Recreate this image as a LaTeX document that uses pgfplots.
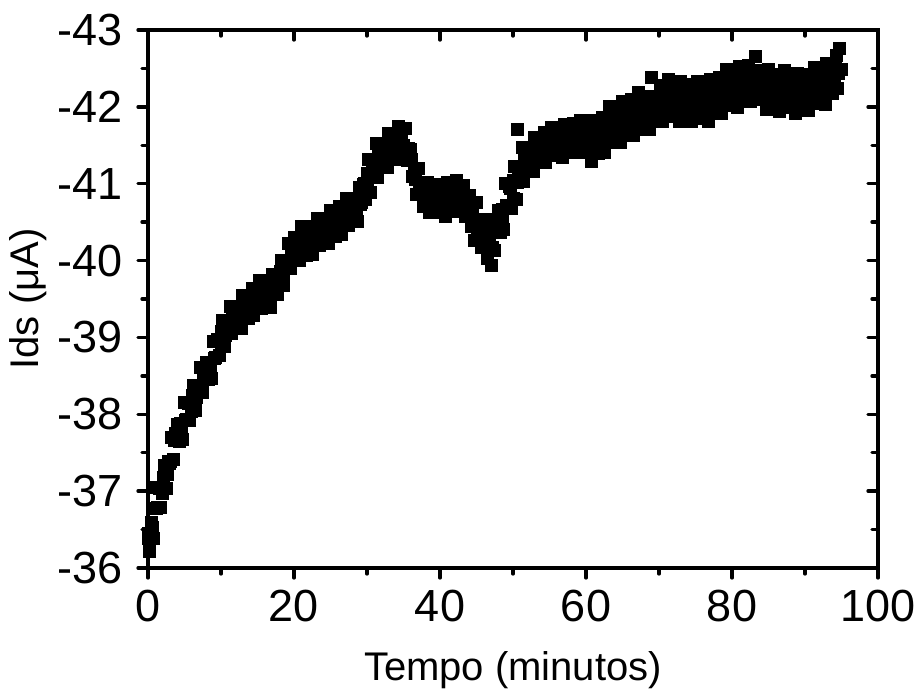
\documentclass[border=0pt]{standalone}
\usepackage{fontspec}
\setmainfont{Liberation Sans}
\usepackage{pgfplots}
\pgfplotsset{compat=1.18}
\begin{document}
\begin{tikzpicture}
\pgfplotsset{
  common/.style={
    scale only axis, width=219pt, height=161.4pt,
    xmin=0, xmax=100, ymin=-43, ymax=-36, y dir=reverse,
    xtick={0,20,40,60,80,100},
    ytick={-43,-42,-41,-40,-39,-38,-37,-36},
    minor x tick num=1, minor y tick num=1,
    axis line style={line width=1.05pt},
    major tick length=3pt, minor tick length=1.8pt,
    every tick/.style={black, line width=1pt, line cap=round},
  },
  sq/.style={only marks, mark=square*, mark size=1.75pt, black, mark options={draw=black, fill=black}},
}
\begin{axis}[common,
  tick align=outside, tick pos=left,
  xticklabels={0,20,40,60,80,100},
  yticklabels={-43,-42,-41,-40,-39,-38,-37,-36},
  ticklabel style={font=\fontsize{13.5}{15}\selectfont},
  yticklabel style={xshift=-1pt},
  label style={font=\fontsize{12}{14}\selectfont},
  xlabel style={yshift=-2pt},
  ylabel style={yshift=-3.6pt},
  xlabel={Tempo (minutos)}, ylabel={Ids (μA)},
]
\addplot[sq] coordinates {
(0,-36.45)(0.25,-36.22)(0.5,-36.59)(0.75,-36.38)
(1,-37.05)(1.25,-36.79)(1.5,-37.05)(1.75,-36.79)
(2,-36.97)(2.25,-37.34)(2.5,-37.04)(2.75,-37.39)
(3,-37.36)(3.25,-37.70)(3.5,-37.41)(3.75,-37.75)
(4,-37.87)(4.25,-37.65)(4.5,-37.88)(4.75,-37.67)
(5,-38.15)(5.25,-37.93)(5.5,-38.14)(5.75,-37.92)
(6,-38.04)(6.25,-38.38)(6.5,-38.05)(6.75,-38.37)
(7,-38.31)(7.25,-38.61)(7.5,-38.29)(7.75,-38.59)
(8,-38.67)(8.25,-38.45)(8.5,-38.68)(8.75,-38.47)
(9,-38.95)(9.25,-38.74)(9.5,-38.97)(9.75,-38.76)
(10,-38.89)(10.25,-39.22)(10.5,-38.88)(10.75,-39.18)
(11,-39.11)(11.25,-39.40)(11.5,-39.05)(11.75,-39.34)
(12,-39.40)(12.25,-39.15)(12.5,-39.34)(12.75,-39.11)
(13,-39.55)(13.25,-39.31)(13.5,-39.49)(13.75,-39.25)
(14,-39.34)(14.25,-39.64)(14.5,-39.28)(14.75,-39.56)
(15,-39.46)(15.25,-39.74)(15.5,-39.38)(15.75,-39.66)
(16,-39.71)(16.25,-39.45)(16.5,-39.63)(16.75,-39.39)
(17,-39.82)(17.25,-39.59)(17.5,-39.79)(17.75,-39.56)
(18,-39.67)(18.25,-40.00)(18.5,-39.67)(18.75,-39.98)
(19,-39.91)(19.25,-40.22)(19.5,-39.90)(19.75,-40.21)
(20,-40.30)(20.25,-40.04)(20.5,-40.24)(20.75,-40.00)
(21,-40.44)(21.25,-40.17)(21.5,-40.33)(21.75,-40.07)
(22,-40.14)(22.25,-40.44)(22.5,-40.08)(22.75,-40.36)
(23,-40.26)(23.25,-40.55)(23.5,-40.20)(23.75,-40.49)
(24,-40.55)(24.25,-40.28)(24.5,-40.47)(24.75,-40.22)
(25,-40.65)(25.25,-40.39)(25.5,-40.57)(25.75,-40.31)
(26,-40.39)(26.25,-40.70)(26.5,-40.34)(26.75,-40.62)
(27,-40.53)(27.25,-40.81)(27.5,-40.46)(27.75,-40.74)
(28,-40.80)(28.25,-40.55)(28.5,-40.74)(28.75,-40.51)
(29,-40.95)(29.25,-40.76)(29.5,-40.99)(29.75,-40.80)
(30,-40.91)(30.25,-41.31)(30.5,-40.88)(30.75,-41.24)
(31,-41.14)(31.25,-41.52)(31.5,-41.08)(31.75,-41.45)
(32,-41.50)(32.25,-41.25)(32.5,-41.44)(32.75,-41.21)
(33,-41.65)(33.25,-41.39)(33.5,-41.57)(33.75,-41.31)
(34,-41.39)(34.25,-41.75)(34.5,-41.35)(34.75,-41.62)
(35,-41.50)(35.25,-41.72)(35.5,-41.30)(35.75,-41.46)
(36,-41.45)(36.25,-41.10)(36.5,-41.19)(36.75,-40.86)
(37,-41.20)(37.25,-40.89)(37.5,-41.02)(37.75,-40.71)
(38,-40.74)(38.25,-41.01)(38.5,-40.62)(38.75,-40.87)
(39,-40.74)(39.25,-40.99)(39.5,-40.62)(39.75,-40.87)
(40,-40.90)(40.25,-40.64)(40.5,-40.83)(40.75,-40.58)
(41,-41.02)(41.25,-40.77)(41.5,-40.94)(41.75,-40.69)
(42,-40.77)(42.25,-41.04)(42.5,-40.64)(42.75,-40.89)
(43,-40.76)(43.25,-40.98)(43.5,-40.58)(43.75,-40.80)
(44,-40.85)(44.25,-40.44)(44.5,-40.64)(44.75,-40.26)
(45,-40.75)(45.25,-40.38)(45.5,-40.54)(45.75,-40.17)
(46,-40.21)(46.25,-40.53)(46.5,-40.03)(46.75,-40.32)
(47,-39.93)(47.25,-40.54)(47.5,-40.13)(47.75,-40.53)
(48,-40.65)(48.25,-40.36)(48.5,-40.66)(48.75,-40.40)
(49,-41.00)(49.25,-40.72)(49.5,-40.96)(49.75,-40.68)
(50,-40.81)(50.25,-41.22)(50.5,-40.80)(50.6,-41.70)(50.75,-41.18)
(51,-41.09)(51.25,-41.47)(51.5,-41.03)(51.75,-41.40)
(52,-41.45)(52.25,-41.20)(52.5,-41.39)(52.75,-41.16)
(53,-41.60)(53.25,-41.35)(53.5,-41.53)(53.75,-41.27)
(54,-41.36)(54.25,-41.66)(54.5,-41.28)(54.75,-41.56)
(55,-41.46)(55.25,-41.73)(55.5,-41.37)(55.75,-41.63)
(56,-41.68)(56.25,-41.41)(56.5,-41.59)(56.75,-41.34)
(57,-41.77)(57.25,-41.51)(57.5,-41.67)(57.75,-41.41)
(58,-41.49)(58.25,-41.78)(58.5,-41.40)(58.75,-41.67)
(59,-41.56)(59.25,-41.82)(59.5,-41.44)(59.75,-41.70)
(60,-41.78)(60.25,-41.41)(60.5,-41.64)(60.75,-41.29)
(61,-41.82)(61.25,-41.50)(61.5,-41.71)(61.75,-41.39)
(62,-41.48)(62.25,-41.86)(62.5,-41.41)(62.75,-41.76)
(63,-41.64)(63.25,-42.00)(63.5,-41.54)(63.75,-41.89)
(64,-41.97)(64.25,-41.61)(64.5,-41.86)(64.75,-41.53)
(65,-42.07)(65.25,-41.75)(65.5,-41.95)(65.75,-41.63)
(66,-41.72)(66.25,-42.09)(66.5,-41.63)(66.75,-41.97)
(67,-41.84)(67.25,-42.19)(67.5,-41.71)(67.75,-42.06)
(68,-42.13)(68.25,-41.78)(68.5,-42.03)(68.75,-41.70)
(69,-42.38)(69.25,-41.93)(69.5,-42.14)(69.75,-41.82)
(70,-41.91)(70.25,-42.28)(70.5,-41.81)(70.75,-42.15)
(71,-42.02)(71.25,-42.36)(71.5,-41.88)(71.75,-42.23)
(72,-42.29)(72.25,-41.92)(72.5,-42.15)(72.75,-41.81)
(73,-42.33)(73.25,-42.00)(73.5,-42.19)(73.75,-41.86)
(74,-41.93)(74.25,-42.29)(74.5,-41.81)(74.75,-42.14)
(75,-41.99)(75.25,-42.33)(75.5,-41.85)(75.75,-42.19)
(76,-42.25)(76.25,-41.89)(76.5,-42.14)(76.75,-41.81)
(77,-42.35)(77.25,-42.03)(77.5,-42.24)(77.75,-41.92)
(78,-42.01)(78.25,-42.38)(78.5,-41.92)(78.75,-42.26)
(79,-42.13)(79.25,-42.48)(79.5,-42.02)(79.75,-42.37)
(80,-42.44)(80.25,-42.08)(80.5,-42.32)(80.75,-41.99)
(81,-42.53)(81.25,-42.21)(81.5,-42.41)(81.75,-42.09)
(82,-42.18)(82.25,-42.54)(82.5,-42.07)(82.75,-42.40)
(83,-42.26)(83.25,-42.66)(83.5,-42.10)(83.75,-42.42)
(84,-42.47)(84.25,-42.09)(84.5,-42.32)(84.75,-41.97)
(85,-42.49)(85.25,-42.15)(85.5,-42.33)(85.75,-41.99)
(86,-42.06)(86.25,-42.42)(86.5,-41.94)(86.75,-42.27)
(87,-42.13)(87.25,-42.47)(87.5,-41.99)(87.75,-42.33)
(88,-42.39)(88.25,-42.02)(88.5,-42.25)(88.75,-41.91)
(89,-42.44)(89.25,-42.11)(89.5,-42.30)(89.75,-41.97)
(90,-42.05)(90.25,-42.42)(90.5,-41.95)(90.75,-42.29)
(91,-42.16)(91.25,-42.51)(91.5,-42.05)(91.75,-42.40)
(92,-42.47)(92.25,-42.11)(92.5,-42.36)(92.75,-42.03)
(93,-42.57)(93.25,-42.26)(93.5,-42.48)(93.75,-42.17)
(94,-42.28)(94.25,-42.67)(94.5,-42.24)(94.75,-42.76)
(95,-42.49)
};
\addplot[sq] coordinates {
(0.125,-36.38)(0.625,-36.53)(1.125,-36.78)(1.625,-37.04)
(2.125,-37.18)(2.625,-37.22)(3.125,-37.38)(3.625,-37.66)
(4.125,-37.81)(4.625,-37.80)(5.125,-37.92)(5.625,-38.14)
(6.125,-38.24)(6.625,-38.22)(7.125,-38.31)(7.625,-38.52)
(8.125,-38.61)(8.625,-38.60)(9.125,-38.72)(9.625,-38.97)
(10.125,-39.08)(10.625,-39.03)(11.125,-39.10)(11.625,-39.27)
(12.125,-39.32)(12.625,-39.25)(13.125,-39.30)(13.625,-39.47)
(14.125,-39.52)(14.625,-39.42)(15.125,-39.45)(15.625,-39.60)
(16.125,-39.63)(16.625,-39.54)(17.125,-39.58)(17.625,-39.78)
(18.125,-39.86)(18.625,-39.83)(19.125,-39.92)(19.625,-40.14)
(20.125,-40.22)(20.625,-40.15)(21.125,-40.18)(21.625,-40.31)
(22.125,-40.32)(22.625,-40.22)(23.125,-40.25)(23.625,-40.42)
(24.125,-40.47)(24.625,-40.37)(25.125,-40.40)(25.625,-40.54)
(26.125,-40.57)(26.625,-40.48)(27.125,-40.52)(27.625,-40.68)
(28.125,-40.72)(28.625,-40.65)(29.125,-40.73)(29.625,-41.00)
(30.125,-41.13)(30.625,-41.08)(31.125,-41.16)(31.625,-41.35)
(32.125,-41.42)(32.625,-41.35)(33.125,-41.40)(33.625,-41.54)
(34.125,-41.56)(34.625,-41.43)(35.125,-41.40)(35.625,-41.43)
(36.125,-41.32)(36.625,-41.05)(37.125,-40.92)(37.625,-40.97)
(38.125,-40.90)(38.625,-40.75)(39.125,-40.72)(39.625,-40.82)
(40.125,-40.82)(40.625,-40.73)(41.125,-40.77)(41.625,-40.92)
(42.125,-40.93)(42.625,-40.77)(43.125,-40.72)(43.625,-40.77)
(44.125,-40.69)(44.625,-40.50)(45.125,-40.42)(45.625,-40.47)
(46.125,-40.39)(46.625,-40.20)(47.125,-40.17)(47.625,-40.42)
(48.125,-40.55)(48.625,-40.58)(49.125,-40.72)(49.625,-40.94)
(50.125,-41.04)(50.625,-41.02)(51.125,-41.11)(51.625,-41.30)
(52.125,-41.37)(52.625,-41.30)(53.125,-41.35)(53.625,-41.50)
(54.125,-41.53)(54.625,-41.43)(55.125,-41.44)(55.625,-41.58)
(56.125,-41.60)(56.625,-41.50)(57.125,-41.51)(57.625,-41.65)
(58.125,-41.66)(58.625,-41.54)(59.125,-41.54)(59.625,-41.66)
(60.125,-41.64)(60.625,-41.52)(61.125,-41.52)(61.625,-41.66)
(62.125,-41.69)(62.625,-41.61)(63.125,-41.65)(63.625,-41.80)
(64.125,-41.84)(64.625,-41.74)(65.125,-41.76)(65.625,-41.91)
(66.125,-41.93)(66.625,-41.83)(67.125,-41.84)(67.625,-41.98)
(68.125,-42.00)(68.625,-41.91)(69.125,-41.95)(69.625,-42.09)
(70.125,-42.11)(70.625,-42.01)(71.125,-42.02)(71.625,-42.15)
(72.125,-42.15)(72.625,-42.03)(73.125,-42.02)(73.625,-42.14)
(74.125,-42.13)(74.625,-42.00)(75.125,-41.99)(75.625,-42.11)
(76.125,-42.12)(76.625,-42.02)(77.125,-42.05)(77.625,-42.19)
(78.125,-42.22)(78.625,-42.12)(79.125,-42.14)(79.625,-42.28)
(80.125,-42.31)(80.625,-42.21)(81.125,-42.23)(81.625,-42.37)
(82.125,-42.38)(82.625,-42.26)(83.125,-42.25)(83.625,-42.35)
(84.125,-42.33)(84.625,-42.19)(85.125,-42.18)(85.625,-42.27)
(86.125,-42.26)(86.625,-42.13)(87.125,-42.13)(87.625,-42.25)
(88.125,-42.25)(88.625,-42.13)(89.125,-42.13)(89.625,-42.25)
(90.125,-42.25)(90.625,-42.15)(91.125,-42.17)(91.625,-42.31)
(92.125,-42.34)(92.625,-42.24)(93.125,-42.27)(93.625,-42.44)
(94.125,-42.50)(94.625,-42.44)
};
\end{axis}
\begin{axis}[common,
  tick align=inside, tick pos=right,
  xticklabels={}, yticklabels={},
]
\addplot[draw=none] coordinates {(50,-40)};
\end{axis}
\pgfresetboundingbox
\path[use as bounding box] ([xshift=-44.4pt,yshift=-37.5pt]current axis.south west) rectangle ([xshift=11.1pt,yshift=9pt]current axis.north east);
\end{tikzpicture}
\end{document}
